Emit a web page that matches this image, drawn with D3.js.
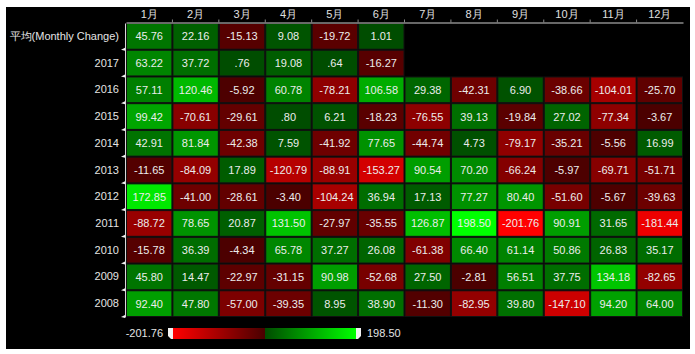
<!DOCTYPE html>
<html>
<head>
<meta charset="utf-8">
<script src="https://cdn.jsdelivr.net/npm/d3@7"></script>
<style>
  body { margin: 0; background: #fff; }
  svg { display: block; font-family: "Liberation Sans", Arial, sans-serif; }
</style>
</head>
<body>
<div id="chart"></div>
<script>
var months = ["1月","2月","3月","4月","5月","6月","7月","8月","9月","10月","11月","12月"];
var rowNames = ["平均(Monthly Change)","2017","2016","2015","2014","2013","2012","2011","2010","2009","2008"];

var avgRow = [45.76, 22.16, -15.13, 9.08, -19.72, 1.01];
var y2017 = [63.22, 37.72, 0.76, 19.08, 0.64, -16.27];
var y2016 = [57.11, 120.46, -5.92, 60.78, -78.21, 106.58, 29.38, -42.31, 6.90, -38.66, -104.01, -25.70];
var y2015 = [99.42, -70.61, -29.61, 0.80, 6.21, -18.23, -76.55, 39.13, -19.84, 27.02, -77.34, -3.67];
var y2014 = [42.91, 81.84, -42.38, 7.59, -41.92, 77.65, -44.74, 4.73, -79.17, -35.21, -5.56, 16.99];
var y2013 = [-11.65, -84.09, 17.89, -120.79, -88.91, -153.27, 90.54, 70.20, -66.24, -5.97, -69.71, -51.71];
var y2012 = [172.85, -41.00, -28.61, -3.40, -104.24, 36.94, 17.13, 77.27, 80.40, -51.60, -5.67, -39.63];
var y2011 = [-88.72, 78.65, 20.87, 131.50, -27.97, -35.55, 126.87, 198.50, -201.76, 90.91, 31.65, -181.44];
var y2010 = [-15.78, 36.39, -4.34, 65.78, 37.27, 26.08, -61.38, 66.40, 61.14, 50.86, 26.83, 35.17];
var y2009 = [45.80, 14.47, -22.97, -31.15, 90.98, -52.68, 27.50, -2.81, 56.51, 37.75, 134.18, -82.65];
var y2008 = [92.40, 47.80, -57.00, -39.35, 8.95, 38.90, -11.30, -82.95, 39.80, -147.10, 94.20, 64.00];

var rowValues = [avgRow, y2017, y2016, y2015, y2014, y2013, y2012, y2011, y2010, y2009, y2008];

var width = 695, height = 354;
var grid = { left: 126, top: 23, right: 683, bottom: 317 };

var cells = [];
rowValues.forEach(function(vals, r) {
    vals.forEach(function(v, c) {
        cells.push({ row: rowNames[r], month: months[c], value: v });
    });
});

var allVals = cells.map(d => d.value);
var vMin = d3.min(allVals), vMax = d3.max(allVals);

var redScale = d3.scaleLinear().domain([vMin, 0]).range(["#ff0000", "#480000"]);
var greenScale = d3.scaleLinear().domain([0, vMax]).range(["#004c00", "#00ff00"]);
function color(v) { return v < 0 ? redScale(v) : greenScale(v); }

// format like .76 / -41.00 (plain hyphen minus)
function fmt(v) {
    var s = Math.abs(v).toFixed(2).replace(/^0\./, ".");
    return (v < 0 ? "-" : "") + s;
}

var x = d3.scaleBand().domain(months).range([grid.left, grid.right]);
var y = d3.scaleBand().domain(rowNames).range([grid.top, grid.bottom]);

var svg = d3.select("#chart").append("svg")
    .attr("width", width)
    .attr("height", height);

svg.append("rect")
    .attr("x", 6).attr("y", 7)
    .attr("width", 684).attr("height", 342)
    .attr("fill", "#000");

// cells
var cell = svg.append("g").selectAll("g")
    .data(cells)
    .enter().append("g");

cell.append("rect")
    .attr("x", d => x(d.month) + 0.5)
    .attr("y", d => y(d.row) + 0.5)
    .attr("width", x.bandwidth() - 1)
    .attr("height", y.bandwidth() - 1)
    .attr("fill", d => color(d.value))
    .attr("stroke", "#111")
    .attr("stroke-width", 1);

cell.append("text")
    .attr("x", d => x(d.month) + x.bandwidth() / 2)
    .attr("y", d => y(d.row) + y.bandwidth() / 2)
    .attr("dy", ".36em")
    .attr("text-anchor", "middle")
    .attr("fill", "#ececec")
    .style("font-size", "11px")
    .text(d => fmt(d.value));

// top axis
var xAxis = d3.axisTop(x).tickSize(0).tickPadding(5);
var gx = svg.append("g")
    .attr("transform", "translate(0," + (grid.top - 0.5) + ")")
    .call(xAxis);
gx.select(".domain").attr("stroke", "#8a8a8a").attr("stroke-width", 1.5);
gx.selectAll("text").attr("fill", "#e0e0e0").style("font-size", "11px");
gx.selectAll(".bnd")
    .data(months.slice(1))
    .enter().append("line")
    .attr("x1", d => x(d)).attr("x2", d => x(d))
    .attr("y1", 0).attr("y2", -3)
    .attr("stroke", "#8a8a8a");

// left axis
var yAxis = d3.axisLeft(y).tickSize(0).tickPadding(6);
var gy = svg.append("g")
    .attr("transform", "translate(" + (grid.left - 1) + ",0)")
    .call(yAxis);
gy.select(".domain").attr("stroke", "#d8d8d8");
gy.selectAll("text").attr("fill", "#e4e4e4").style("font-size", "11px");
gy.selectAll(".mark")
    .data(rowNames)
    .enter().append("path")
    .attr("d", d => {
        var yy = y(d) + y.bandwidth();
        return "M0," + (yy - 2) + "L-4," + yy + "L0," + (yy + 1) + "Z";
    })
    .attr("fill", "#f0f0f0");

// legend
var legX0 = 173, legX1 = 356, legY = 328, legH = 11;
var defs = svg.append("defs");
var grad = defs.append("linearGradient").attr("id", "legGrad");
var zeroPos = (0 - vMin) / (vMax - vMin);
grad.append("stop").attr("offset", 0).attr("stop-color", color(vMin));
grad.append("stop").attr("offset", zeroPos).attr("stop-color", color(-0.001));
grad.append("stop").attr("offset", zeroPos).attr("stop-color", color(0));
grad.append("stop").attr("offset", 1).attr("stop-color", color(vMax));

var legScale = d3.scaleLinear().domain([vMin, vMax]).range([legX0, legX1]);

svg.append("rect")
    .attr("x", legScale(vMin)).attr("y", legY)
    .attr("width", legScale(vMax) - legScale(vMin))
    .attr("height", legH)
    .attr("fill", "url(#legGrad)");

// handles
svg.append("path")
    .attr("d", "M" + (legX0 - 5) + "," + legY + "h5v" + legH + "h-2l-3,-3Z")
    .attr("fill", "#f2f2f2");
svg.append("path")
    .attr("d", "M" + legX1 + "," + legY + "h5v" + (legH - 3) + "l-3,3h-2Z")
    .attr("fill", "#f2f2f2");

svg.append("text")
    .attr("x", legX0 - 10).attr("y", legY + legH / 2)
    .attr("dy", ".36em")
    .attr("text-anchor", "end")
    .attr("fill", "#e4e4e4")
    .style("font-size", "11px")
    .text(fmt(vMin));

svg.append("text")
    .attr("x", legX1 + 11).attr("y", legY + legH / 2)
    .attr("dy", ".36em")
    .attr("fill", "#e4e4e4")
    .style("font-size", "11px")
    .text(fmt(vMax));
</script>
</body>
</html>
